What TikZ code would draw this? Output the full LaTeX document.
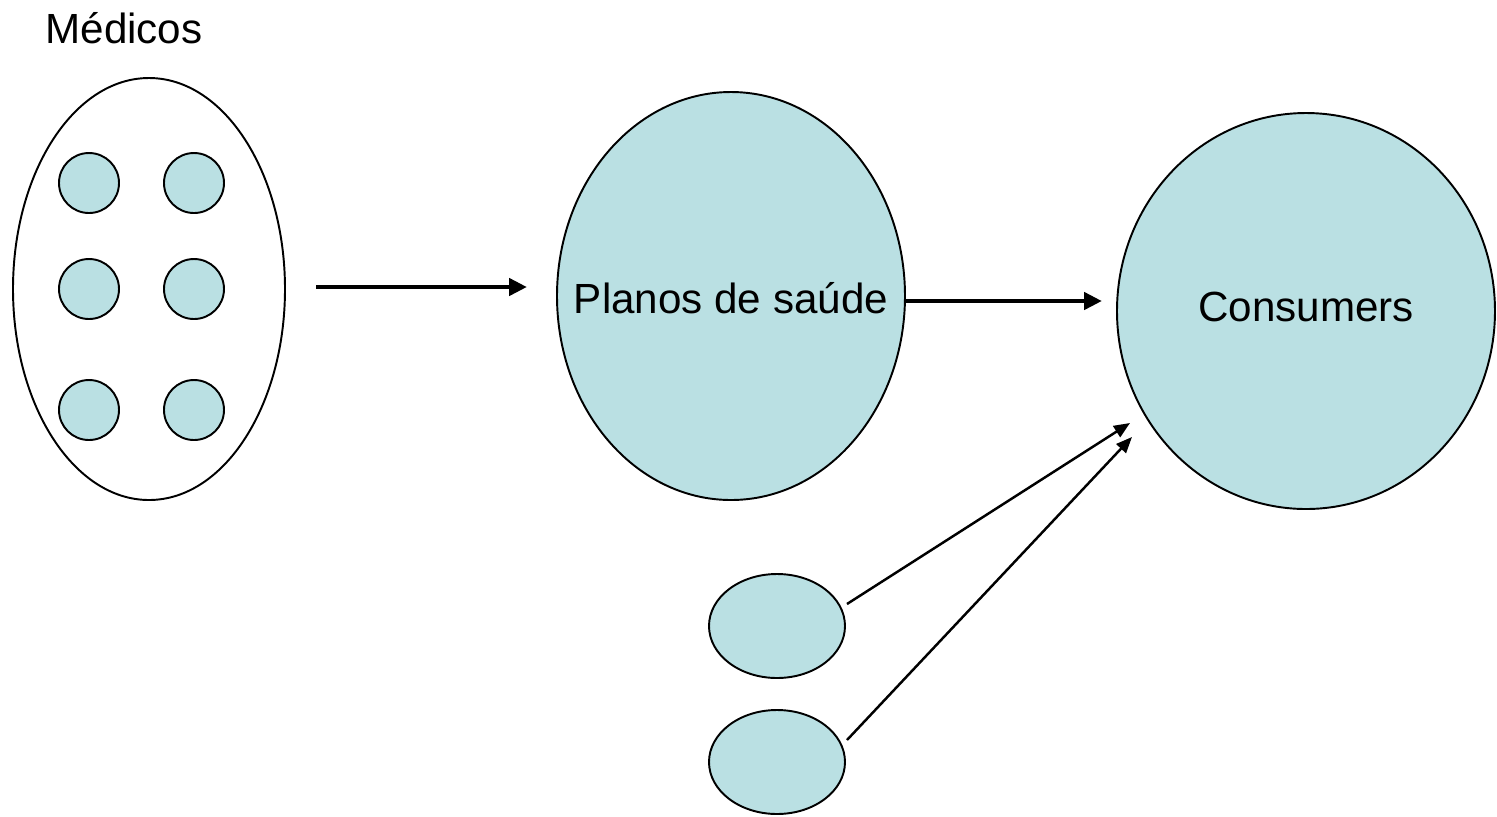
\documentclass[tikz,border=0pt]{standalone}
\usepackage{fontspec}
\setmainfont{Liberation Sans}
\usepackage{tikz}
\usetikzlibrary{arrows.meta,positioning,calc,shapes.geometric}

\definecolor{lightteal}{HTML}{BAE0E3}

\begin{document}
\begin{tikzpicture}[
  blob/.style={ellipse, draw, line width=0.55pt, fill=lightteal, inner sep=0pt},
  member/.style={circle, draw, line width=0.55pt, fill=lightteal, minimum size=0.6cm, inner sep=0pt},
  bigarrow/.style={-{Triangle[length=0.18cm, width=0.17cm]}, line width=1.3pt},
  thinarrow/.style={-{Triangle[length=0.16cm, width=0.13cm]}, line width=0.7pt},
  font=\fontsize{12pt}{14pt}\selectfont
]
\useasboundingbox (0,0) rectangle (14.97,-8.16);

% Group of doctors
\node (medtitle) at (1.24,-0.28) {Médicos};
\node[ellipse, draw, line width=0.55pt, minimum width=2.72cm, minimum height=4.22cm, inner sep=0pt] (medicos) at (1.49,-2.89) {};
\node[member] (m1) at (0.89,-1.83) {};
\node[member] (m2) at (1.94,-1.83) {};
\node[member] (m3) at (0.89,-2.89) {};
\node[member] (m4) at (1.94,-2.89) {};
\node[member] (m5) at (0.89,-4.10) {};
\node[member] (m6) at (1.94,-4.10) {};

% Health plans and consumers
\node[blob, minimum width=3.48cm, minimum height=4.08cm] (planos) at (7.31,-2.96) {};
\node (planostxt) at (7.31,-2.98) {Planos de saúde};
\node[blob, minimum width=3.78cm, minimum height=3.96cm] (consumers) at (13.06,-3.11) {};
\node (consumerstxt) at (13.06,-3.07) {Consumers};

% Small groups below
\node[blob, minimum width=1.36cm, minimum height=1.04cm] (s1) at (7.77,-6.26) {};
\node[blob, minimum width=1.36cm, minimum height=1.04cm] (s2) at (7.77,-7.62) {};

% Arrow end points
\coordinate (medout) at (3.16,-2.87);
\coordinate (planin) at (5.27,-2.87);
\coordinate (planout) at (9.06,-3.01);
\coordinate (consin) at (11.02,-3.01);
\coordinate (consin1) at (11.30,-4.23);
\coordinate (consin2) at (11.32,-4.37);
\coordinate (s1out) at (8.47,-6.04);
\coordinate (s2out) at (8.47,-7.40);

% Arrows
\draw[bigarrow] (medout) -- (planin);
\draw[bigarrow] (planout) -- (consin);
\draw[thinarrow] (s1out) -- (consin1);
\draw[thinarrow] (s2out) -- (consin2);

\end{tikzpicture}
\end{document}
